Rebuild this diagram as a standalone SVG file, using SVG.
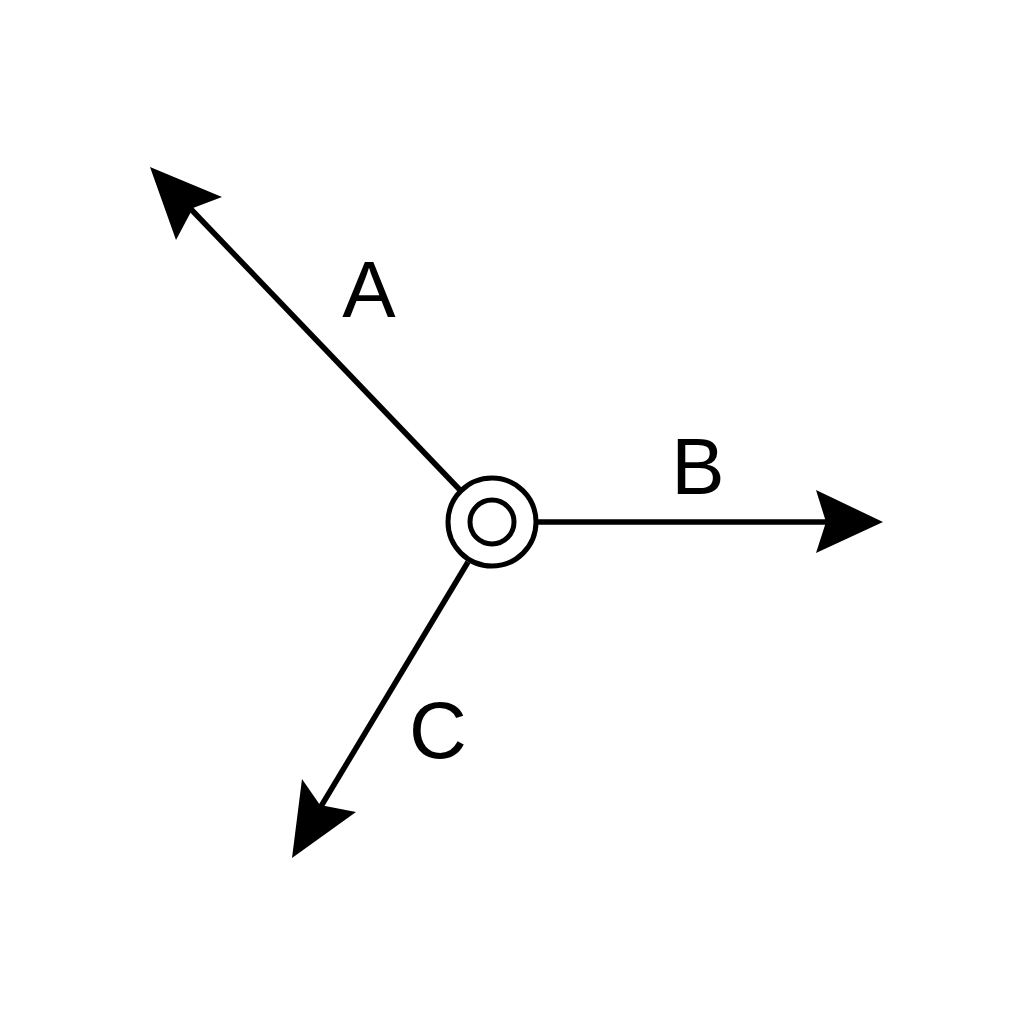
<svg xmlns="http://www.w3.org/2000/svg" width="1024" height="1024" viewBox="0 0 1024 1024">
<style>
.ln{stroke:#000;stroke-width:5.5;fill:none}
.hd{fill:#000;stroke:none}
.lb{font-family:"Liberation Sans",Arial,sans-serif;font-size:80px;fill:#000;text-anchor:middle}
</style>
<rect width="1024" height="1024" fill="#fff"/>
<g id="connectors">
<line class="ln" x1="460" y1="490" x2="186" y2="204"/>
<polygon class="hd" points="150,167 222,197 193,208 176,240"/>
<line class="ln" x1="538" y1="522" x2="836" y2="522"/>
<polygon class="hd" points="883,522 816,490 826,522 816,553"/>
<line class="ln" x1="468" y1="562" x2="314" y2="818"/>
<polygon class="hd" points="292,858 302,779 320,805 356,812"/>
</g>
<g id="node-center">
<circle cx="492" cy="522" r="44" fill="#fff" stroke="#000" stroke-width="5"/>
<circle cx="492" cy="522" r="22" fill="none" stroke="#000" stroke-width="5"/>
</g>
<g id="labels">
<text class="lb" x="369" y="317">A</text>
<text class="lb" x="698" y="494">B</text>
<text class="lb" x="438" y="758">C</text>
</g>
</svg>
